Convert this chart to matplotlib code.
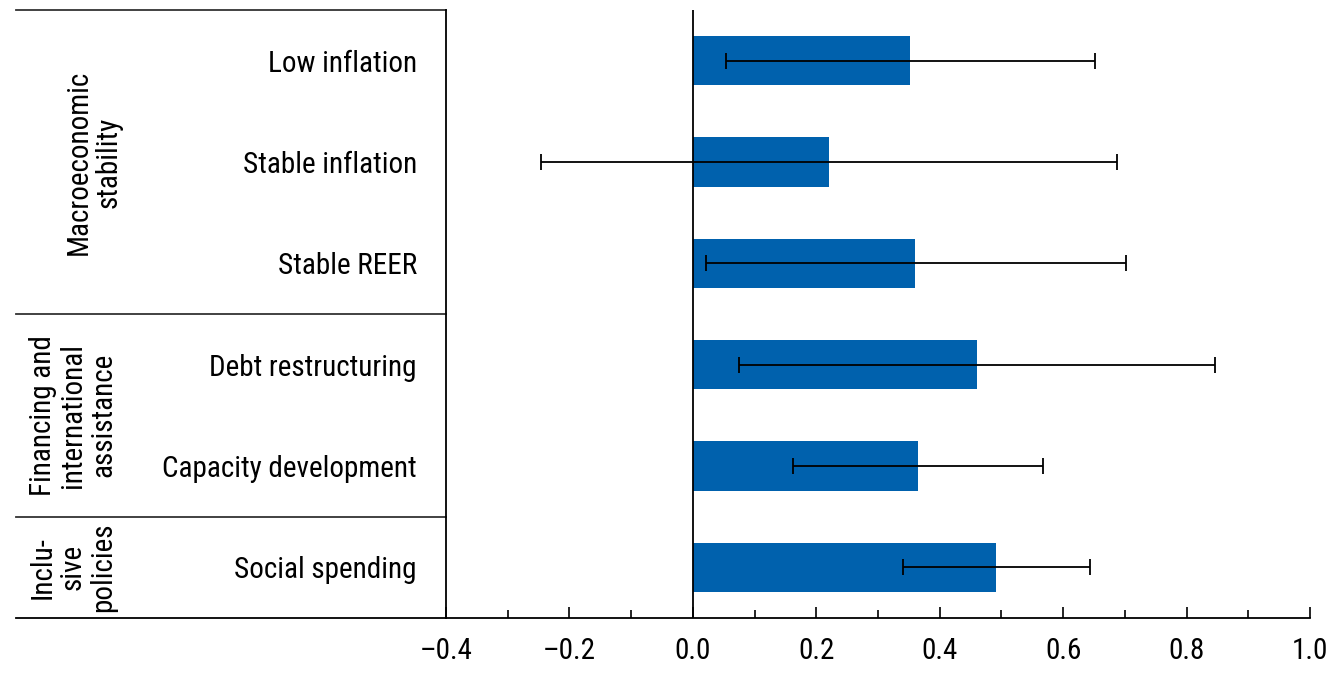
import numpy as np
import matplotlib.pyplot as plt
import matplotlib.transforms as mtransforms
from matplotlib.ticker import MultipleLocator
from matplotlib import font_manager

# data
labels = ["Low inflation", "Stable inflation", "Stable REER",
          "Debt restructuring", "Capacity development", "Social spending"]
values = [0.352, 0.221, 0.360, 0.461, 0.365, 0.491]
err_low = [0.054, -0.246, 0.021, 0.075, 0.162, 0.340]
err_high = [0.652, 0.687, 0.702, 0.846, 0.568, 0.644]

groups = ["Macroeconomic\nstability", "Financing and\ninternational\nassistance",
          "Inclu-\nsive\npolicies"]
group_rows = [(0, 2), (3, 4), (5, 5)]
group_x = [-0.408, -0.432, -0.432]

xticks = [-0.4, -0.2, 0.0, 0.2, 0.4, 0.6, 0.8, 1.0]
xticklabels = ["\u20130.4", "\u20130.2", "0.0", "0.2", "0.4", "0.6", "0.8", "1.0"]

# narrow font if there is one, else plain Liberation Sans
names = {f.name for f in font_manager.fontManager.ttflist}
fam = "Liberation Sans"
for cand in ["Liberation Sans Narrow", "Arial Narrow", "Roboto Condensed",
             "Open Sans Condensed", "DejaVu Sans Condensed"]:
    if cand in names:
        fam = cand
        break
plt.rcParams['font.family'] = [fam, 'DejaVu Sans']
narrow = fam != "Liberation Sans"

bar_color = "#0061ad"
fs = 21 if narrow else 20

fig = plt.figure(figsize=(13.33, 6.73), dpi=100)
ax = fig.add_axes([446/1333, 1-618/673, 864/1333, 608/673])

y = np.arange(len(labels))
vals = np.array(values)
xerr = np.array([vals - np.array(err_low), np.array(err_high) - vals])
ax.barh(y, vals, height=0.49, color=bar_color, zorder=2)
ax.errorbar(vals, y, xerr=xerr, fmt="none", ecolor="black", elinewidth=1.3,
            capsize=6, capthick=1.3, zorder=3)
ax.axvline(0, color="black", lw=1.3, zorder=4)

ax.set_xlim(-0.4, 1.0)
ax.set_ylim(len(labels) - 0.5, -0.5)
ax.set_xticks(xticks)
ax.set_xticklabels(xticklabels, fontsize=fs)
ax.xaxis.set_minor_locator(MultipleLocator(0.1))
ax.tick_params(axis="x", which="major", direction="in", length=8, width=1.2, pad=14)
ax.tick_params(axis="x", which="minor", direction="in", length=6, width=1.2)

ax.set_yticks(y)
ax.set_yticklabels(labels, fontsize=fs)
ax.tick_params(axis="y", length=0, pad=21)

for s in ["top", "right"]:
    ax.spines[s].set_visible(False)
ax.spines["left"].set_linewidth(1.3)
ax.spines["bottom"].set_linewidth(1.3)

# table lines on the left
trans = mtransforms.blended_transform_factory(ax.transAxes, ax.transData)
x0 = (16 - 446) / 864
for yy in [-0.5, 2.5, 4.5]:
    ax.plot([x0, 0], [yy, yy], color="#333333", lw=1.3, transform=trans, clip_on=False)
ax.plot([x0, 0], [5.5, 5.5], color="black", lw=1.3, transform=trans, clip_on=False)

for g, (a, b), gx in zip(groups, group_rows, group_x):
    ax.text(gx, (a + b) / 2, g, transform=trans, rotation=90, ha="center",
            va="center", fontsize=fs, linespacing=1.1, multialignment="center")

fig.savefig("out.png", dpi=100)
